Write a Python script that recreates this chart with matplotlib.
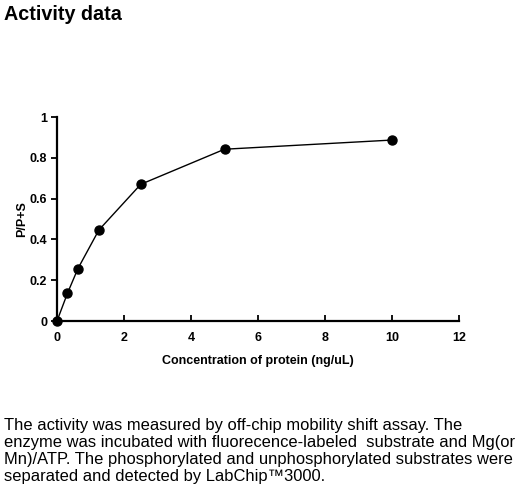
import matplotlib
matplotlib.use("Agg")
import matplotlib.pyplot as plt

plt.rcParams['font.family'] = ['Liberation Sans', 'DejaVu Sans']

conc = [0, 0.3125, 0.625, 1.25, 2.5, 5, 10]
activity = [0.0, 0.136, 0.257, 0.446, 0.670, 0.842, 0.887]
xticks = [0, 2, 4, 6, 8, 10, 12]
yticks = [0, 0.2, 0.4, 0.6, 0.8, 1]
ytick_labels = ['0', '0.2', '0.4', '0.6', '0.8', '1']

W, H = 520, 492
fig = plt.figure(figsize=(W / 100, H / 100), dpi=100)
ax = fig.add_axes([57 / W, 171 / H, (459 - 57) / W, (321 - 117) / H])

ax.plot(conc, activity, color='black', lw=1.0, marker='o', ms=6.5,
        clip_on=False, zorder=3)
ax.set_xlim(0, 12)
ax.set_ylim(0, 1)
ax.set_xticks(xticks)
ax.set_yticks(yticks)
ax.set_yticklabels(ytick_labels)
for s in ['top', 'right']:
    ax.spines[s].set_visible(False)
for s in ['left', 'bottom']:
    ax.spines[s].set_linewidth(1.6)
ax.tick_params(axis='x', direction='in', length=4, width=1.3, labelsize=9, pad=8)
ax.tick_params(axis='y', direction='out', length=4, width=1.3, labelsize=9, pad=3)
for lab in ax.get_xticklabels() + ax.get_yticklabels():
    lab.set_fontweight('bold')
ax.set_xlabel('Concentration of protein (ng/uL)', fontsize=9, fontweight='bold', labelpad=8)
ax.set_ylabel('P/P+S', fontsize=9, fontweight='bold', labelpad=1)

fig.text(4 / W, 1 - 5 / H, 'Activity data', fontsize=14.2, fontweight='bold',
         va='top', ha='left')

body = ("The activity was measured by off-chip mobility shift assay. The\n"
        "enzyme was incubated with fluorecence-labeled  substrate and Mg(or\n"
        "Mn)/ATP. The phosphorylated and unphosphorylated substrates were\n"
        "separated and detected by LabChip\u21223000.")
fig.text(4 / W, 1 - 418 / H, body, fontsize=11.9, va='top', ha='left',
         linespacing=1.17)

fig.savefig('out.png', dpi=100)
